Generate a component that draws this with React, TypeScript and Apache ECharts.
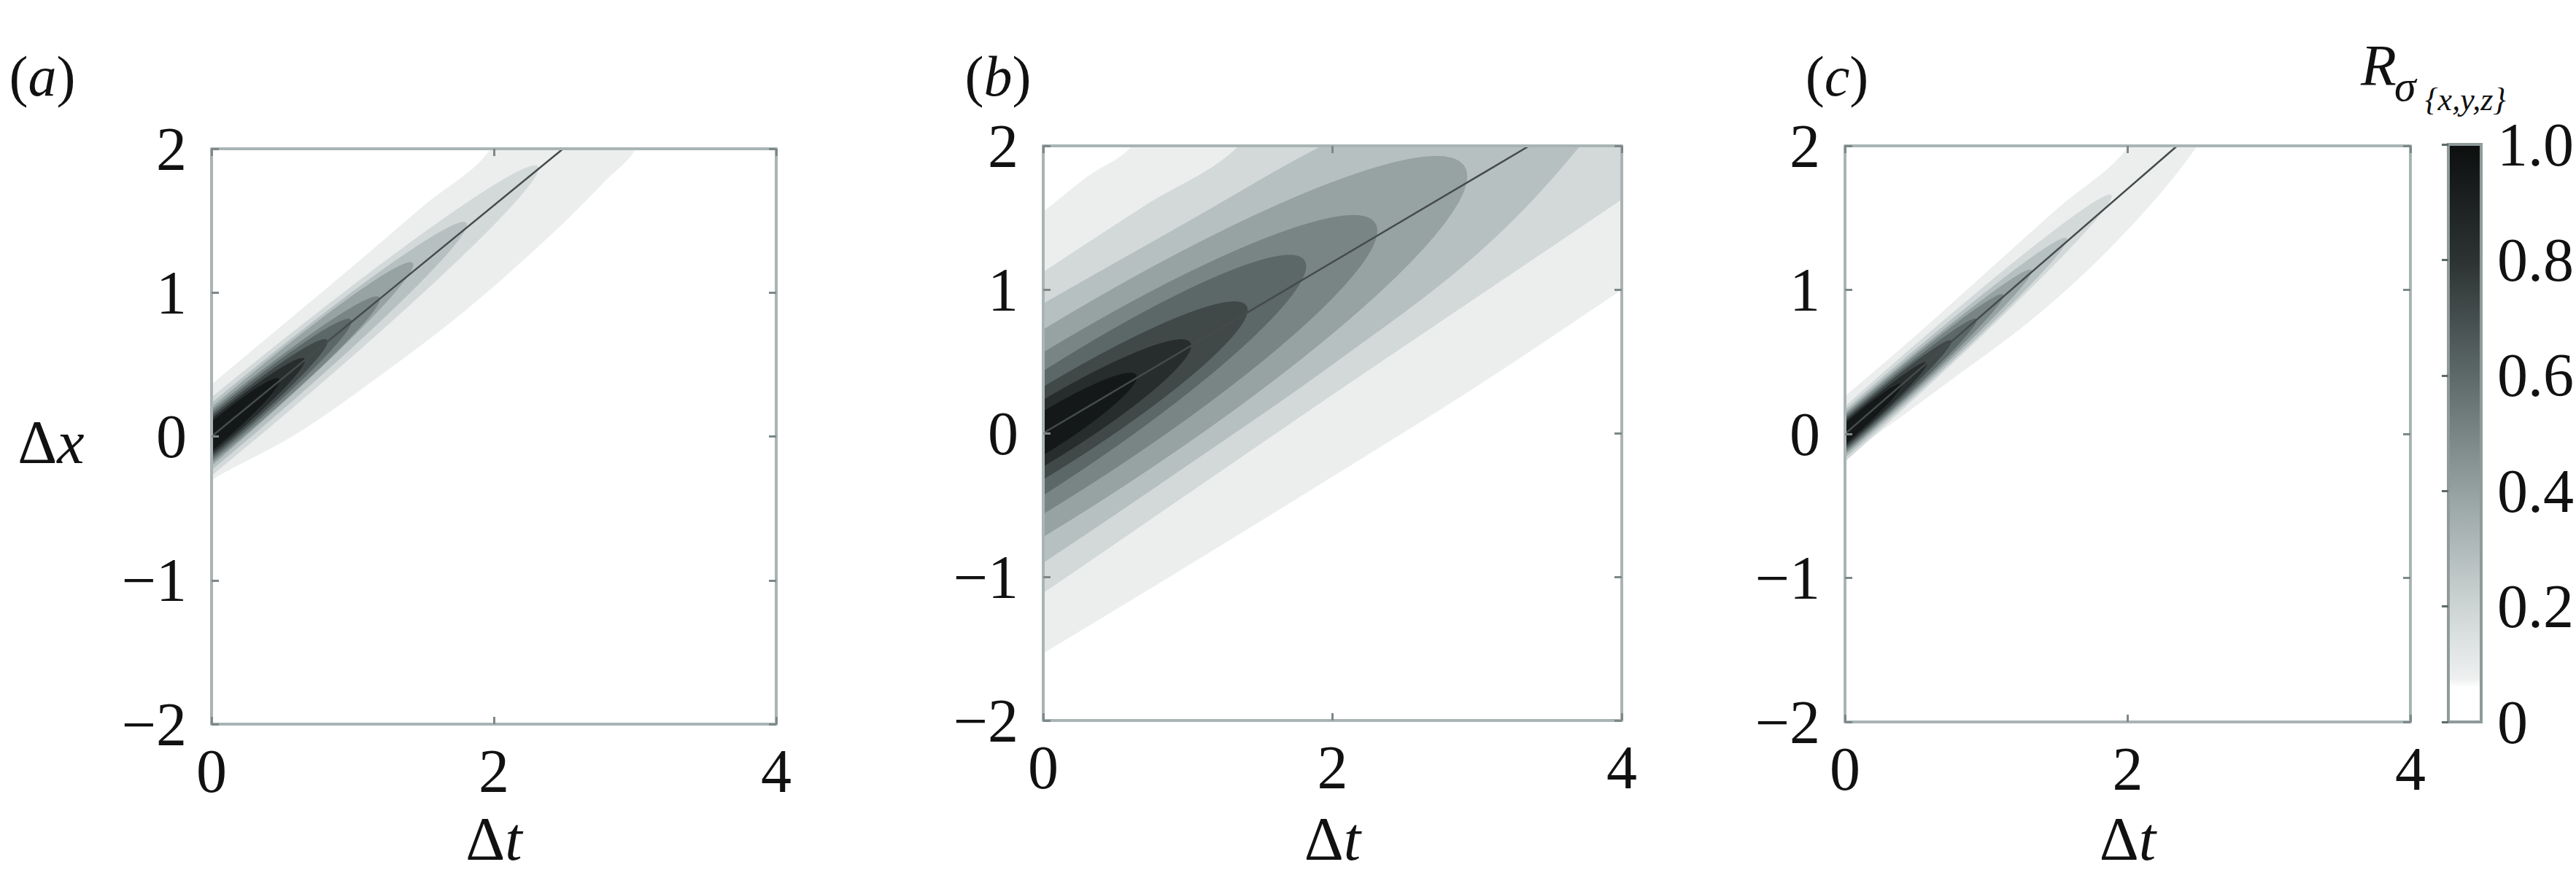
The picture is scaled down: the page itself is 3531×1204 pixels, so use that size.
import React, { useEffect, useRef } from "react";
import * as echarts from "echarts";

// ---------- data ----------
const DT_TICKS = [0, 2, 4];
const DX_TICKS = [-2, -1, 0, 1, 2];
const CBAR_TICKS = [0, 0.2, 0.4, 0.6, 0.8, 1.0];
const LEVELS = [0.1, 0.2, 0.3, 0.4, 0.5, 0.6, 0.7, 0.8, 0.9];
const BAND_COLORS = ["#eceeee", "#d3d9d9", "#b7c0c0", "#97a3a3", "#798585", "#5c6767", "#404848", "#272c2c", "#151818"];
const CBAR_STOPS = [0, 0.06, 0.075, 0.2, 0.4, 0.6, 0.8, 1.0];
const CBAR_COLORS = ["#ffffff", "#ffffff", "#eef0f0", "#cdd4d4", "#95a1a1", "#5d6969", "#2c3232", "#0d0f0f"];

// open (outer) contour outlines, [Δt, Δx], lowest levels first
const OPEN_A = [
  [[-0.2, -0.45], [0, -0.30], [0.6, 0.02], [1.2, 0.43], [1.8, 0.88], [2.4, 1.40], [2.8, 1.79], [3.0, 2.0], [3.2, 2.6], [2.2, 2.6], [1.98, 2.0], [1.5, 1.6], [1.0, 1.18], [0.5, 0.77], [0, 0.36], [-0.2, 0.2]],
];
const OPEN_B = [
  [[-0.2, -1.65], [0, -1.53], [1, -0.92], [2, -0.3], [3, 0.33], [4, 1.0], [4.6, 1.4], [4.6, 3], [1.3, 3], [0.616, 2.0], [0.3, 1.78], [0, 1.54], [-0.2, 1.4]],
  [[-0.2, -1.24], [0, -1.11], [1, -0.42], [2, 0.27], [3, 0.95], [4, 1.63], [4.6, 2.05], [4.6, 3], [2.1, 3], [1.354, 2.0], [0.7, 1.58], [0, 1.12], [-0.2, 0.98]],
  [[-0.2, -1.02], [0, -0.90], [1, -0.22], [2, 0.48], [3, 1.25], [3.71, 2.0], [3.9, 2.35], [3.4, 2.5], [2.6, 2.3], [1.93, 2.0], [1, 1.47], [0, 0.90], [-0.2, 0.78]],
];
const OPEN_C = [
  [[-0.2, -0.3], [0, -0.16], [0.7, 0.34], [1.4, 0.86], [2.0, 1.42], [2.49, 2.0], [2.7, 2.4], [2.1, 2.4], [2.01, 2.0], [1.5, 1.56], [1.0, 1.12], [0.5, 0.68], [0, 0.26], [-0.2, 0.1]],
];
// closed (inner) contours: [half-width at Δt=0, tip Δt, tip Δx], next levels in order
const CLOSED_A = [
  [0.27, 2.315, 1.863],
  [0.23, 1.807, 1.472],
  [0.20, 1.427, 1.193],
  [0.18, 1.19, 0.955],
  [0.16, 0.99, 0.80],
  [0.14, 0.82, 0.66],
  [0.12, 0.66, 0.53],
  [0.10, 0.48, 0.39],
];
const CLOSED_B = [
  [0.72, 2.93, 1.788],
  [0.56, 2.308, 1.409],
  [0.43, 1.816, 1.162],
  [0.32, 1.411, 0.857],
  [0.23, 1.021, 0.609],
  [0.15, 0.645, 0.391],
];
const CLOSED_C = [
  [0.19, 1.885, 1.648],
  [0.165, 1.57, 1.35],
  [0.145, 1.32, 1.13],
  [0.13, 1.12, 0.96],
  [0.115, 0.93, 0.79],
  [0.10, 0.75, 0.64],
  [0.085, 0.58, 0.49],
  [0.07, 0.40, 0.34],
];
// convection lines
const RIDGE_A = [[0, 0], [2.49, 2]];
const RIDGE_B = [[0, 0], [3.36, 2]];
const RIDGE_C = [[0, 0], [2.35, 2]];

const PANEL_LABELS = ["a", "b", "c"];

// ---------- layout ----------
const GRIDS = [
  { left: 290, top: 204, width: 774, height: 789 },
  { left: 1430, top: 200, width: 793, height: 788 },
  { left: 2529, top: 200, width: 775, height: 790 },
];
const CBAR_GRID = { left: 3356, top: 198, width: 51, height: 792 };

const SERIF = "Liberation Serif";
const FRAME = "#a9b4b4";
const TICK = "#7d8888";
const ELLIPSE_STEPS = 96;
const LABEL_SIZE = 84;

const fmtDx = (v: number) => (v < 0 ? "\u2212" + Math.abs(v) : String(v));

export default function App() {
  const ref = useRef<HTMLDivElement>(null);
  useEffect(() => {
    if (!ref.current) return;
    const chart = echarts.init(ref.current, undefined, { renderer: "svg" });

    const opens = [OPEN_A, OPEN_B, OPEN_C];
    const closeds = [CLOSED_A, CLOSED_B, CLOSED_C];
    const ridges = [RIDGE_A, RIDGE_B, RIDGE_C];

    const grid: any[] = GRIDS.map((g) => ({ ...g }));
    grid.push({ ...CBAR_GRID });

    const xAxis: any[] = [];
    const yAxis: any[] = [];
    const series: any[] = [];

    GRIDS.forEach((g, i) => {
      const base = {
        gridIndex: i,
        type: "value",
        z: 10,
        splitLine: { show: false },
        axisLine: { show: true, onZero: false, lineStyle: { color: FRAME, width: 4 } },
        axisTick: { show: true, inside: true, length: 10, lineStyle: { color: TICK, width: 3 } },
      };
      xAxis.push({
        ...base,
        position: "bottom",
        min: DT_TICKS[0],
        max: DT_TICKS[DT_TICKS.length - 1],
        interval: DT_TICKS[1] - DT_TICKS[0],
        axisLabel: { show: true, fontFamily: SERIF, fontSize: LABEL_SIZE, color: "#111", margin: 22 },
      });
      xAxis.push({
        ...base,
        position: "top",
        min: DT_TICKS[0],
        max: DT_TICKS[DT_TICKS.length - 1],
        interval: DT_TICKS[1] - DT_TICKS[0],
        axisLabel: { show: false },
      });
      yAxis.push({
        ...base,
        position: "left",
        min: DX_TICKS[0],
        max: DX_TICKS[DX_TICKS.length - 1],
        interval: DX_TICKS[1] - DX_TICKS[0],
        axisLabel: { show: true, fontFamily: SERIF, fontSize: LABEL_SIZE, color: "#111", margin: 34, formatter: fmtDx, padding: [20, 0, 0, 0] },
      });
      yAxis.push({
        ...base,
        position: "right",
        min: DX_TICKS[0],
        max: DX_TICKS[DX_TICKS.length - 1],
        interval: DX_TICKS[1] - DX_TICKS[0],
        axisLabel: { show: false },
      });

      const open = opens[i];
      const closed = closeds[i];
      const nOpen = open.length;

      series.push({
        type: "custom",
        name: "open" + i,
        xAxisIndex: i * 2,
        yAxisIndex: i * 2,
        clip: true,
        silent: true,
        z: 2,
        data: open.map((c, k) => [c[1][0], c[1][1], LEVELS[k]]),
        renderItem: (params: any, api: any) => {
          const k = params.dataIndex;
          const pts = open[k].map((p) => api.coord(p));
          return {
            type: "polygon",
            z2: k,
            shape: { points: pts, smooth: 0.35 },
            style: { fill: BAND_COLORS[k], stroke: BAND_COLORS[k], lineWidth: 1 },
          };
        },
      });
      series.push({
        type: "custom",
        name: "closed" + i,
        xAxisIndex: i * 2,
        yAxisIndex: i * 2,
        clip: true,
        silent: true,
        z: 3,
        data: closed.map((e, k) => [e[1], e[2], e[0], LEVELS[nOpen + k]]),
        renderItem: (params: any, api: any) => {
          const k = params.dataIndex;
          const T = api.value(0);
          const X = api.value(1);
          const w = api.value(2);
          const s = X / T;
          const pts: number[][] = [];
          for (let j = 0; j < ELLIPSE_STEPS; j++) {
            const phi = (2 * Math.PI * j) / ELLIPSE_STEPS;
            const t = T * Math.cos(phi);
            pts.push(api.coord([t, s * t + w * Math.sin(phi)]));
          }
          const color = BAND_COLORS[nOpen + k];
          return {
            type: "polygon",
            z2: k,
            shape: { points: pts },
            style: { fill: color, stroke: color, lineWidth: 1 },
          };
        },
      });
      series.push({
        type: "line",
        xAxisIndex: i * 2,
        yAxisIndex: i * 2,
        data: ridges[i],
        symbol: "none",
        silent: true,
        z: 5,
        lineStyle: { color: "#454b4b", width: 2.5 },
      });
    });

    // colorbar
    xAxis.push({ gridIndex: 3, type: "value", min: 0, max: 1, show: false });
    yAxis.push({
      gridIndex: 3,
      type: "value",
      position: "right",
      min: CBAR_TICKS[0],
      max: CBAR_TICKS[CBAR_TICKS.length - 1],
      interval: 0.2,
      z: 10,
      splitLine: { show: false },
      axisLine: { show: false },
      axisTick: { show: true, inside: true, length: 9, lineStyle: { color: "#5f6a6a", width: 3 } },
      axisLabel: {
        show: true,
        fontFamily: SERIF,
        fontSize: LABEL_SIZE,
        color: "#111",
        margin: 22,
        padding: [22, 0, 0, 0],
        formatter: (v: number) => (v === 0 ? "0" : v.toFixed(1)),
      },
    });
    series.push({
      type: "custom",
      xAxisIndex: 6,
      yAxisIndex: 6,
      silent: true,
      z: 2,
      data: [[0, CBAR_TICKS[0], 1, CBAR_TICKS[CBAR_TICKS.length - 1]]],
      renderItem: (params: any, api: any) => {
        const p0 = api.coord([api.value(0), api.value(1)]);
        const p1 = api.coord([api.value(2), api.value(3)]);
        const stops = CBAR_STOPS.map((s, i) => ({ offset: 1 - s, color: CBAR_COLORS[i] })).reverse();
        return {
          type: "rect",
          shape: { x: p0[0], y: p1[1], width: p1[0] - p0[0], height: p0[1] - p1[1] },
          style: {
            fill: new echarts.graphic.LinearGradient(0, 0, 0, 1, stops),
            stroke: "#8f9a9a",
            lineWidth: 4,
          },
        };
      },
    });

    const graphic: any[] = [];
    const letterX = [58, 1368, 2518];
    PANEL_LABELS.forEach((l, i) => {
      graphic.push({
        type: "text",
        x: letterX[i],
        y: 104,
        style: {
          text: "({i|" + l + "})",
          fontFamily: SERIF,
          fontSize: 78,
          fill: "#111",
          align: "center",
          verticalAlign: "middle",
          rich: { i: { fontFamily: SERIF, fontSize: 78, fontStyle: "italic", fill: "#111" } },
        },
      });
    });
    GRIDS.forEach((g) => {
      graphic.push({
        type: "text",
        x: g.left + g.width / 2,
        y: 1150,
        style: {
          text: "{d|\u0394}{i|t}",
          fontFamily: SERIF,
          fontSize: 84,
          align: "center",
          verticalAlign: "middle",
          rich: {
            d: { fontFamily: SERIF, fontSize: 84, fill: "#111" },
            i: { fontFamily: SERIF, fontSize: 84, fontStyle: "italic", fill: "#111" },
          },
        },
      });
    });
    graphic.push({
      type: "text",
      x: 70,
      y: 606,
      style: {
        text: "{d|\u0394}{i|x}",
        fontFamily: SERIF,
        fontSize: 84,
        align: "center",
        verticalAlign: "middle",
        rich: {
          d: { fontFamily: SERIF, fontSize: 84, fill: "#111" },
          i: { fontFamily: SERIF, fontSize: 84, fontStyle: "italic", fill: "#111" },
        },
      },
    });
    graphic.push({
      type: "text", x: 3236, y: 90,
      style: { text: "R", fontFamily: SERIF, fontSize: 80, fontStyle: "italic", fill: "#111", align: "left", verticalAlign: "middle" },
    });
    graphic.push({
      type: "text", x: 3282, y: 118,
      style: { text: "\u03c3", fontFamily: SERIF, fontSize: 60, fontStyle: "italic", fill: "#111", align: "left", verticalAlign: "middle" },
    });
    graphic.push({
      type: "text", x: 3324, y: 136,
      style: { text: "{x,y,z}", fontFamily: SERIF, fontSize: 44, fontStyle: "italic", fill: "#111", align: "left", verticalAlign: "middle" },
    });

    chart.setOption({
      animation: false,
      backgroundColor: "#ffffff",
      textStyle: { fontFamily: SERIF },
      grid,
      xAxis,
      yAxis,
      series,
      graphic,
    });
    return () => chart.dispose();
  }, []);

  return (
    <div
      ref={ref}
      style={{ position: "absolute", left: 0, top: 0, width: 3531, height: 1204, background: "#fff" }}
    />
  );
}
